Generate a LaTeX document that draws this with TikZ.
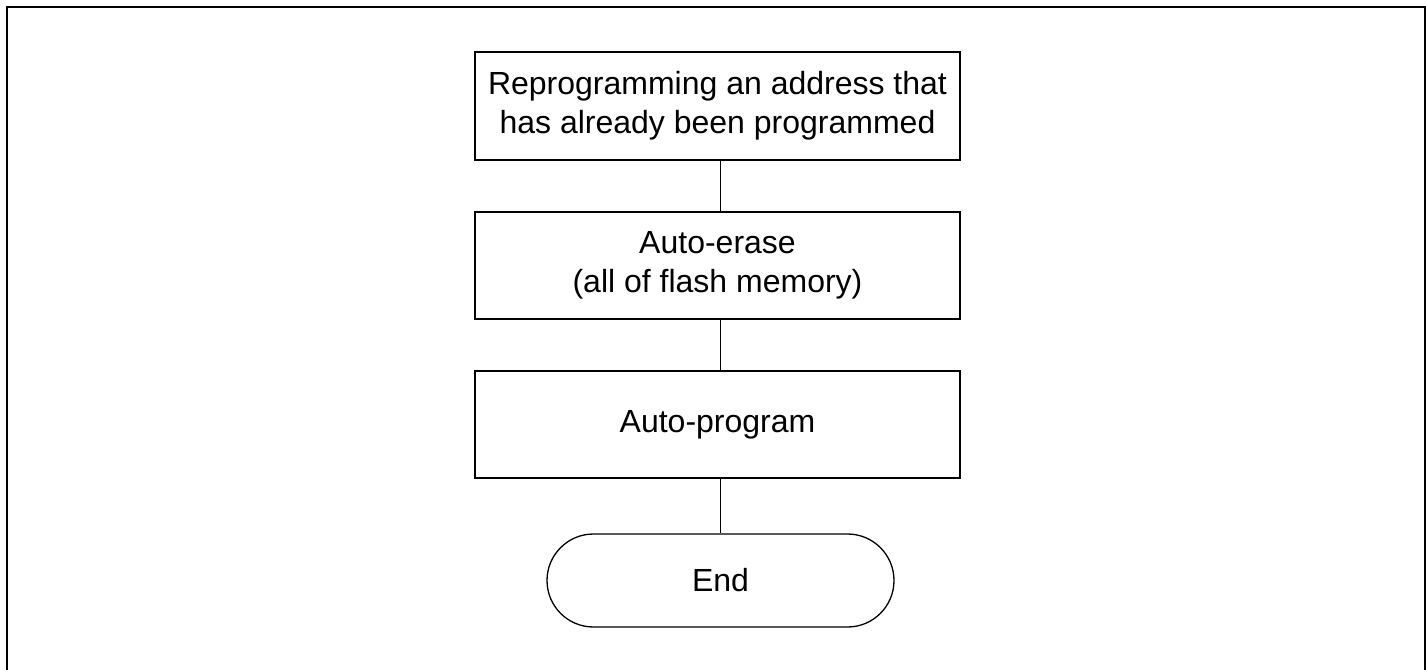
\documentclass[tikz,border=0pt]{standalone}
\usepackage{fontspec}
\setmainfont{Liberation Sans}
\usetikzlibrary{shapes.misc}
\begin{document}
\begin{tikzpicture}[x=0.5pt,y=-0.5pt,
  stepbox/.style={draw, line width=0.65pt, minimum width=242.5pt, inner sep=0pt, align=center,
    font=\fontsize{16}{19.5}\selectfont},
  endbox/.style={draw, line width=0.65pt, rounded rectangle, minimum width=173.5pt, minimum height=46.5pt, inner sep=0pt,
    font=\fontsize{16}{19.5}\selectfont},
  link/.style={line width=0.65pt},
  frame/.style={line width=1pt}]
\useasboundingbox (0,0) rectangle (1426,670);
\draw[frame] (7,670) -- (7,7) -- (1424.5,7) -- (1424.5,670);
\node[stepbox, minimum height=54pt] (b1) at (717.5,106) {Reprogramming an address that\\has already been programmed};
\node[stepbox, minimum height=53.5pt] (b2) at (717.5,265.5) {Auto-erase\\(all of flash memory)};
\node[stepbox, minimum height=53.5pt] (b3) at (717.5,424.5) {Auto-program};
\node[endbox] (e) at (720.5,580.5) {End};
\draw[link] (b1.south -| e.north) -- (b2.north -| e.north);
\draw[link] (b2.south -| e.north) -- (b3.north -| e.north);
\draw[link] (b3.south -| e.north) -- (e.north);
\end{tikzpicture}
\end{document}
